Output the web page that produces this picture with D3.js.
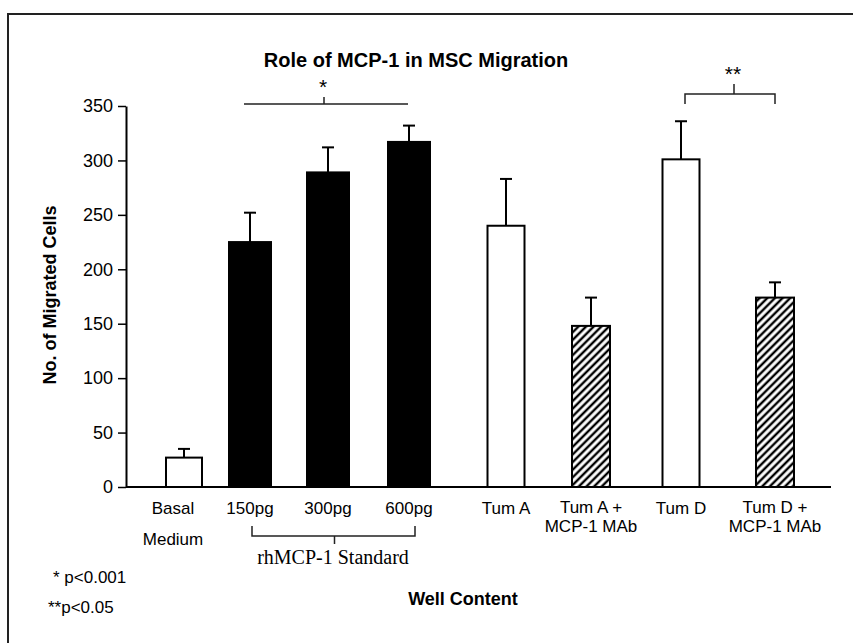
<!DOCTYPE html>
<html>
<head>
<meta charset="utf-8">
<script src="https://cdn.jsdelivr.net/npm/d3@7"></script>
<style>
  html, body { margin: 0; padding: 0; background: #fff; }
  svg { display: block; }
  text { fill: #000; }
</style>
</head>
<body>
<script>
// ---- data ----
const categories = ["Basal Medium", "150pg", "300pg", "600pg", "Tum A", "Tum A + MCP-1 MAb", "Tum D", "Tum D + MCP-1 MAb"];
const labelLines = [["Basal", "Medium"], ["150pg"], ["300pg"], ["600pg"], ["Tum A"], ["Tum A +", "MCP-1 MAb"], ["Tum D"], ["Tum D +", "MCP-1 MAb"]];
const groups = ["control", "standard", "standard", "standard", "tumor", "antibody", "tumor", "antibody"];
const values = [27, 225, 289, 317, 240, 148, 301, 174];
const errors = [8, 27, 23, 15, 43, 26, 35, 14];
const yTicks = [0, 50, 100, 150, 200, 250, 300, 350];
const title = "Role of MCP-1 in MSC Migration";
const yTitle = "No. of Migrated Cells";
const xTitle = "Well Content";
const groupLabel = "rhMCP-1 Standard";
const footnotes = ["* p<0.001", "**p<0.05"];

// ---- layout ----
const W = 853, H = 643;
const SANS = "'Liberation Sans', Arial, Helvetica, sans-serif";
const SERIF = "'Liberation Serif', 'Times New Roman', Times, serif";
const svg = d3.select("body").append("svg").attr("width", W).attr("height", H)
  .style("font-family", SANS);

const defs = svg.append("defs");
const pat = defs.append("pattern").attr("id", "hatch")
  .attr("patternUnits", "userSpaceOnUse").attr("width", 5.4).attr("height", 5.4)
  .attr("patternTransform", "rotate(45)");
pat.append("rect").attr("width", 5.4).attr("height", 5.4).attr("fill", "#fff");
pat.append("line").attr("x1", 2.7).attr("y1", 0).attr("x2", 2.7).attr("y2", 5.4)
  .attr("stroke", "#000").attr("stroke-width", 2.4);

// figure frame (top & left visible)
svg.append("path").attr("d", `M8,${H}V14H${W}`).attr("fill", "none")
  .attr("stroke", "#222").attr("stroke-width", 2);

const y = d3.scaleLinear().domain([0, 350]).range([487, 106]);
const x = d3.scaleOrdinal().domain(categories).range([184, 250, 328, 409, 506, 591, 681, 775]);
const bw = d3.scaleOrdinal().domain(["control", "standard", "tumor", "antibody"]).range([36, 42, 37, 38]);
const fill = d3.scaleOrdinal().domain(["control", "standard", "tumor", "antibody"]).range(["#fff", "#000", "#fff", "url(#hatch)"]);

const data = categories.map((c, i) => ({ c, v: values[i], e: errors[i], g: groups[i], lines: labelLines[i] }));

// title
svg.append("text").attr("x", 416).attr("y", 67).attr("text-anchor", "middle")
  .attr("font-size", 20).attr("font-weight", "bold").text(title);

// y axis
const yAxis = svg.append("g").attr("transform", "translate(126,0)")
  .call(d3.axisLeft(y).tickValues(yTicks).tickSize(8).tickSizeOuter(0).tickPadding(5));
yAxis.select(".domain").attr("stroke", "#000").attr("stroke-width", 2);
yAxis.selectAll(".tick line").attr("stroke", "#000").attr("stroke-width", 1.5);
yAxis.selectAll(".tick text").style("font-size", "18px").style("font-family", SANS).attr("fill", "#000");

svg.append("text").attr("transform", "translate(56,295) rotate(-90)").attr("text-anchor", "middle")
  .attr("font-size", 18).attr("font-weight", "bold").text(yTitle);

// bars
const bars = svg.append("g");
bars.selectAll("rect").data(data).join("rect")
  .attr("x", d => x(d.c) - bw(d.g) / 2).attr("width", d => bw(d.g))
  .attr("y", d => y(d.v)).attr("height", d => y(0) - y(d.v))
  .attr("fill", d => fill(d.g)).attr("stroke", "#000").attr("stroke-width", 2);

// error bars
const eb = svg.append("g").attr("stroke", "#000").attr("stroke-width", 2);
eb.selectAll("line.v").data(data).join("line").attr("class", "v")
  .attr("x1", d => x(d.c)).attr("x2", d => x(d.c))
  .attr("y1", d => y(d.v)).attr("y2", d => y(d.v + d.e));
eb.selectAll("line.c").data(data).join("line").attr("class", "c")
  .attr("x1", d => x(d.c) - 6).attr("x2", d => x(d.c) + 6)
  .attr("y1", d => y(d.v + d.e)).attr("y2", d => y(d.v + d.e));

// x axis line
svg.append("line").attr("x1", 126).attr("x2", 831).attr("y1", y(0)).attr("y2", y(0))
  .attr("stroke", "#000").attr("stroke-width", 2);

// x labels
const xl = svg.append("g");
data.forEach((d) => {
  const cx = x(d.c) + (d.g === "control" ? -11 : 0);
  const two = d.lines.length > 1;
  d.lines.forEach((t, j) => {
    const yy = j === 0 ? (two && d.g === "antibody" ? 513 : 514) : (d.g === "control" ? 545 : 532);
    xl.append("text").attr("x", cx).attr("y", yy).attr("text-anchor", "middle")
      .attr("font-size", 17).text(t);
  });
});

// rhMCP bracket
const sx = [x("150pg"), x("600pg")];
svg.append("path")
  .attr("d", `M${sx[0] + 2},526V536H${sx[1] + 6}V526M${(sx[0] + sx[1]) / 2 + 5},536V544`)
  .attr("fill", "none").attr("stroke", "#222").attr("stroke-width", 1.5);
svg.append("text").attr("x", 333).attr("y", 564).attr("text-anchor", "middle")
  .style("font-family", SERIF).attr("font-size", 20).text(groupLabel);

// significance brackets
svg.append("path").attr("d", `M244,104H408M324,104V97`).attr("fill", "none")
  .attr("stroke", "#222").attr("stroke-width", 1.5);
svg.append("text").attr("x", 323).attr("y", 94).attr("text-anchor", "middle").attr("font-size", 21).text("*");
svg.append("path").attr("d", `M${x("Tum D") + 4},104V94H${x("Tum D + MCP-1 MAb")}V104M734,94V84`).attr("fill", "none")
  .attr("stroke", "#222").attr("stroke-width", 1.5);
svg.append("text").attr("x", 733).attr("y", 81).attr("text-anchor", "middle").attr("font-size", 21).text("**");

// axis title + footnotes
svg.append("text").attr("x", 463).attr("y", 605).attr("text-anchor", "middle")
  .attr("font-size", 18).attr("font-weight", "bold").text(xTitle);
svg.append("text").attr("x", 53).attr("y", 583).attr("font-size", 17).text(footnotes[0]);
svg.append("text").attr("x", 48).attr("y", 613).attr("font-size", 17).text(footnotes[1]);
</script>
</body>
</html>
